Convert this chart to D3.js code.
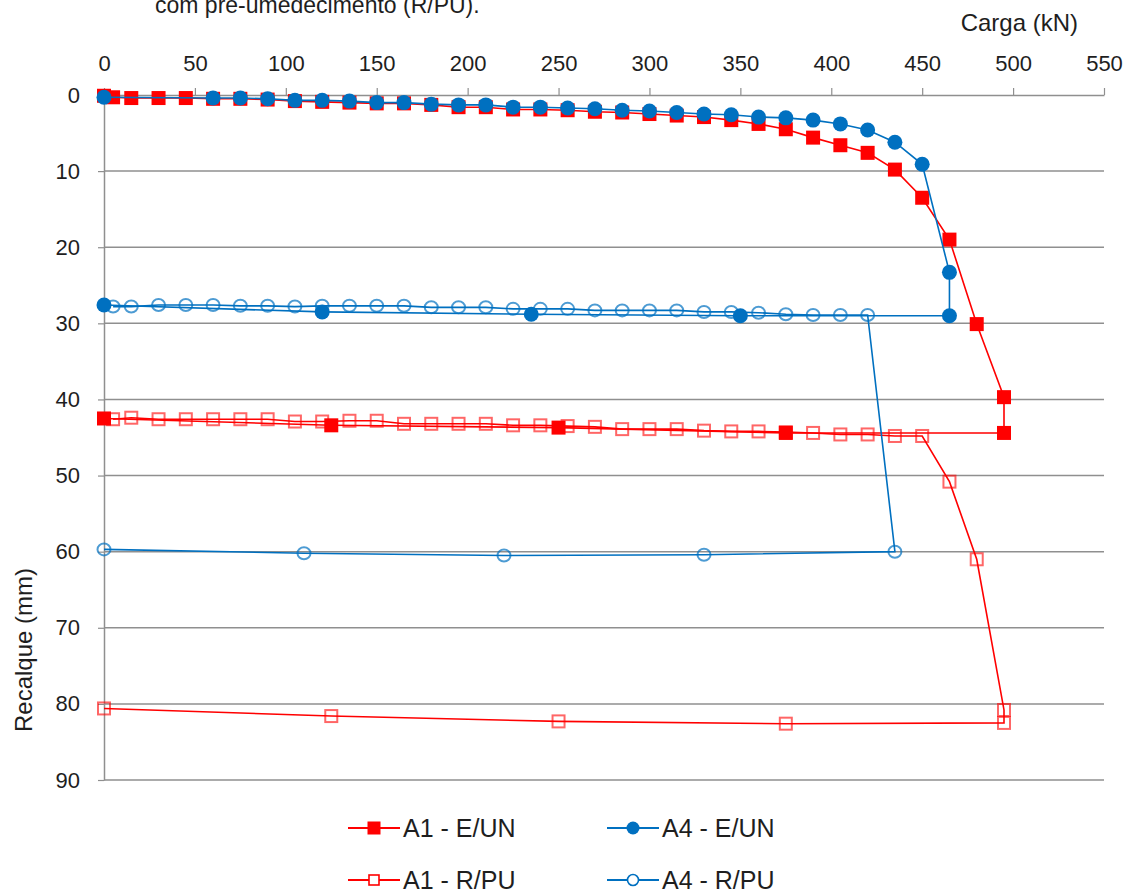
<!DOCTYPE html>
<html><head><meta charset="utf-8">
<script src="https://cdn.jsdelivr.net/npm/d3@7"></script>
<style>
html,body{margin:0;padding:0;background:#fff;}
svg{display:block;font-family:"Liberation Sans",Arial,sans-serif;}
</style></head>
<body>
<svg id="chart" width="1128" height="893"></svg>
<script>
// ---- data ----
const xTicks = [0,50,100,150,200,250,300,350,400,450,500,550];
const yTicks = [0,10,20,30,40,50,60,70,80,90];

const a1EUN_load = [0,5,15,30,45,60,75,90,105,120,135,150,165,180,195,210,225,240,255,270,285,300,315,330,345,360,375,390,405,420,435,450,465,480,495,495,375,250,125,0];
const a1EUN_set  = [0.1,0.3,0.4,0.4,0.4,0.5,0.5,0.6,0.8,0.9,1.0,1.1,1.1,1.3,1.6,1.6,1.9,1.9,2.0,2.2,2.3,2.5,2.7,2.9,3.3,3.8,4.5,5.6,6.6,7.6,9.8,13.5,19.0,30.1,39.7,44.4,44.4,43.7,43.4,42.5];

const a1RPU_load = [5,15,30,45,60,75,90,105,120,135,150,165,180,195,210,225,240,255,270,285,300,315,330,345,360,375,390,405,420,435,450,465,480,495,495,375,250,125,0];
const a1RPU_set  = [42.6,42.4,42.6,42.6,42.6,42.6,42.6,42.9,42.9,42.8,42.8,43.2,43.2,43.2,43.2,43.4,43.4,43.5,43.6,43.9,43.9,43.9,44.1,44.2,44.2,44.3,44.4,44.6,44.6,44.8,44.8,50.8,61.0,80.8,82.5,82.6,82.3,81.6,80.6];

const a4EUN_load = [0,60,75,90,105,120,135,150,165,180,195,210,225,240,255,270,285,300,315,330,345,360,375,390,405,420,435,450,465,465,350,235,120,0];
const a4EUN_set  = [0.3,0.4,0.4,0.5,0.7,0.7,0.8,1.0,1.0,1.2,1.3,1.3,1.6,1.6,1.7,1.8,2.0,2.1,2.3,2.5,2.6,2.9,3.0,3.3,3.8,4.6,6.2,9.1,23.3,29.0,29.0,28.8,28.5,27.6];

const a4RPU_load = [5,15,30,45,60,75,90,105,120,135,150,165,180,195,210,225,240,255,270,285,300,315,330,345,360,375,390,405,420,435,330,220,110,0];
const a4RPU_set  = [27.8,27.8,27.6,27.6,27.6,27.7,27.7,27.8,27.7,27.7,27.7,27.7,27.9,27.9,27.9,28.1,28.1,28.1,28.3,28.3,28.3,28.3,28.5,28.5,28.6,28.8,28.9,28.9,28.9,60.0,60.4,60.5,60.2,59.7];

const seriesNames = ["A1 - E/UN","A4 - E/UN","A1 - R/PU","A4 - R/PU"];

// ---- chart ----
const svg = d3.select("#chart");
const x = d3.scaleLinear().domain([0,550]).range([104,1104]);
const y = d3.scaleLinear().domain([0,90]).range([95,780]);
const RED = "#ff0000", BLUE = "#0070c0", GRID = "#8f8f8f", TXT = "#1e1e1e";

// title fragment (cropped by the top edge, as in the source)
svg.append("text").attr("x",155).attr("y",13).attr("font-size",23).attr("fill",TXT)
  .text("com pré-umedecimento (R/PU).");
svg.append("text").attr("x",1078).attr("y",31).attr("font-size",24).attr("fill",TXT)
  .attr("text-anchor","end").text("Carga (kN)");

// gridlines
svg.append("g").selectAll("line").data(yTicks.filter(d=>d>0)).join("line")
  .attr("x1",x(0)).attr("x2",x(550)).attr("y1",d=>y(d)).attr("y2",d=>y(d))
  .attr("stroke",GRID).attr("stroke-width",1.5);

// top axis
const gx = svg.append("g").attr("transform",`translate(0,${y(0)})`)
  .call(d3.axisTop(x).tickValues(xTicks).tickSize(7).tickPadding(17).tickSizeOuter(0));
gx.select(".domain").attr("stroke",GRID).attr("stroke-width",1.5);
gx.selectAll(".tick line").attr("stroke",GRID).attr("stroke-width",1.2);
gx.selectAll(".tick text").attr("font-size",22).attr("fill",TXT).attr("font-family","Liberation Sans, Arial, sans-serif");

// left axis
const gy = svg.append("g").attr("transform",`translate(${x(0)},0)`)
  .call(d3.axisLeft(y).tickValues(yTicks).tickSize(6).tickPadding(18).tickSizeOuter(0));
gy.select(".domain").attr("stroke",GRID).attr("stroke-width",1.5);
gy.selectAll(".tick line").attr("stroke",GRID).attr("stroke-width",1.2);
gy.selectAll(".tick text").attr("font-size",22).attr("fill",TXT).attr("font-family","Liberation Sans, Arial, sans-serif");

svg.append("text").attr("transform",`translate(32,650) rotate(-90)`).attr("text-anchor","middle")
  .attr("font-size",24).attr("fill",TXT).text("Recalque (mm)");

const zip = (a,b)=>a.map((v,i)=>[v,b[i]]);
const line = d3.line().x(d=>x(d[0])).y(d=>y(d[1]));

function drawSeries(pts,color,kind){
  const g = svg.append("g");
  g.append("path").datum(pts).attr("d",line).attr("fill","none").attr("stroke",color).attr("stroke-width",1.6);
  const m = g.selectAll(".m").data(pts).join(kind==="sq"||kind==="osq"?"rect":"ellipse");
  if(kind==="sq"){
    m.attr("x",d=>x(d[0])-7).attr("y",d=>y(d[1])-7).attr("width",14).attr("height",14).attr("fill",color);
  } else if(kind==="osq"){
    m.attr("x",d=>x(d[0])-6).attr("y",d=>y(d[1])-6).attr("width",12).attr("height",12)
     .attr("fill","none").attr("stroke",color).attr("stroke-width",2).attr("stroke-opacity",0.6);
  } else if(kind==="ci"){
    m.attr("cx",d=>x(d[0])).attr("cy",d=>y(d[1])).attr("rx",7.5).attr("ry",7.5).attr("fill",color);
  } else {
    m.attr("cx",d=>x(d[0])).attr("cy",d=>y(d[1])).attr("rx",6.5).attr("ry",6).attr("fill","none")
     .attr("stroke",color).attr("stroke-width",2).attr("stroke-opacity",0.7);
  }
}
drawSeries(zip(a1RPU_load,a1RPU_set),RED,"osq");
drawSeries(zip(a1EUN_load,a1EUN_set),RED,"sq");
drawSeries(zip(a4RPU_load,a4RPU_set),BLUE,"oci");
drawSeries(zip(a4EUN_load,a4EUN_set),BLUE,"ci");

// legend
const legend = [
  {name:seriesNames[0],color:RED,kind:"sq",x:348,y:828},
  {name:seriesNames[1],color:BLUE,kind:"ci",x:607,y:828},
  {name:seriesNames[2],color:RED,kind:"osq",x:348,y:880},
  {name:seriesNames[3],color:BLUE,kind:"oci",x:607,y:880}
];
legend.forEach(l=>{
  const g = svg.append("g");
  g.append("line").attr("x1",l.x).attr("x2",l.x+52).attr("y1",l.y).attr("y2",l.y).attr("stroke",l.color).attr("stroke-width",1.8);
  const cx = l.x+26;
  if(l.kind==="sq") g.append("rect").attr("x",cx-6.5).attr("y",l.y-6.5).attr("width",13).attr("height",13).attr("fill",l.color);
  if(l.kind==="osq") g.append("rect").attr("x",cx-5).attr("y",l.y-5).attr("width",10).attr("height",10).attr("fill","#fff").attr("stroke",l.color).attr("stroke-width",1.6);
  if(l.kind==="ci") g.append("circle").attr("cx",cx).attr("cy",l.y).attr("r",6.5).attr("fill",l.color);
  if(l.kind==="oci") g.append("circle").attr("cx",cx).attr("cy",l.y).attr("r",5.5).attr("fill","#fff").attr("stroke",l.color).attr("stroke-width",1.6);
  g.append("text").attr("x",l.x+55).attr("y",l.y+9).attr("font-size",25).attr("fill",TXT).text(l.name);
});
</script>
</body></html>
